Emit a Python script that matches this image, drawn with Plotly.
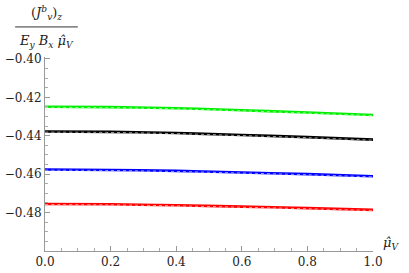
import plotly.graph_objects as go

mu = [0.0, 0.2, 0.4, 0.6, 0.8, 1.0]

green_solid = [-0.4249, -0.4251, -0.4257, -0.4267, -0.4279, -0.4292]
black_solid = [-0.4378, -0.4380, -0.4386, -0.4396, -0.4407, -0.4420]
blue_solid = [-0.4576, -0.4578, -0.4583, -0.4591, -0.4600, -0.4611]
red_solid = [-0.4755, -0.4757, -0.4762, -0.4769, -0.4777, -0.4786]

green_dash = [-0.4252, -0.4254, -0.4260, -0.4270, -0.4282, -0.4295]
black_dash = [-0.4381, -0.4383, -0.4389, -0.4399, -0.4410, -0.4423]
blue_dash = [-0.4579, -0.4581, -0.4586, -0.4594, -0.4603, -0.4614]
red_dash = [-0.4758, -0.4760, -0.4765, -0.4772, -0.4780, -0.4789]

series = [
    (green_solid, green_dash, "#00ee00"),
    (black_solid, black_dash, "#000000"),
    (blue_solid, blue_dash, "#0000ff"),
    (red_solid, red_dash, "#ff0000"),
]

fig = go.Figure()
for s, d, c in series:
    fig.add_trace(go.Scatter(x=mu, y=s, mode="lines", line=dict(color=c, width=2.6, shape="spline"),
                             showlegend=False, hoverinfo="skip"))
    fig.add_trace(go.Scatter(x=mu, y=d, mode="lines",
                             line=dict(color="rgba(255,255,255,0.75)", width=0.8, dash="3px,3px", shape="spline"),
                             showlegend=False, hoverinfo="skip"))

FAM = "DejaVu Serif"
font = dict(family=FAM, size=12, color="#222222")
axis_common = dict(showgrid=False, zeroline=False, showline=True, linecolor="#999999", linewidth=1,
                   ticks="inside", ticklen=5, tickcolor="#999999", tickfont=font, automargin=False,
                   minor=dict(ticks="inside", ticklen=3, tickcolor="#aaaaaa"))

fig.update_xaxes(range=[0, 1.0], tickvals=[0, 0.2, 0.4, 0.6, 0.8, 1.0],
                 ticktext=["0.0", "0.2", "0.4", "0.6", "0.8", "1.0"],
                 minor_dtick=0.05, minor_tick0=0, **axis_common)
fig.update_yaxes(range=[-0.5, -0.399], tickvals=[-0.48, -0.46, -0.44, -0.42, -0.40],
                 ticktext=["\u22120.48", "\u22120.46", "\u22120.44", "\u22120.42", "\u22120.40"],
                 minor_dtick=0.005, minor_tick0=0, **axis_common)

fig.update_layout(
    width=409, height=273,
    margin=dict(l=45, r=36, t=57, b=22),
    paper_bgcolor="white", plot_bgcolor="white",
    font=font,
)

lab_font = dict(family=FAM, size=13, color="#222222")
fig.add_annotation(xref="paper", yref="paper", x=1.025, y=0.04, xanchor="left", yanchor="middle",
                   text="<i>\u03bc\u0302<sub>V</sub></i>", showarrow=False, font=lab_font)
fig.add_annotation(xref="paper", yref="paper", x=0.005, y=1.225, xanchor="center", yanchor="middle",
                   text="(<i>J<sup>b</sup><sub>v</sub></i>)<sub><i>z</i></sub>", showarrow=False, font=lab_font)
fig.add_shape(type="line", xref="paper", yref="paper", x0=-0.091, x1=0.10, y0=1.155, y1=1.155,
              line=dict(color="#333333", width=1))
fig.add_annotation(xref="paper", yref="paper", x=0.005, y=1.08, xanchor="center", yanchor="middle",
                   text="<i>E<sub>y</sub> B<sub>x</sub> \u03bc\u0302<sub>V</sub></i>", showarrow=False, font=lab_font)

fig.write_html("out.html", config={"displayModeBar": False},
               post_script="document.body.style.margin='0';document.body.style.padding='0';")
